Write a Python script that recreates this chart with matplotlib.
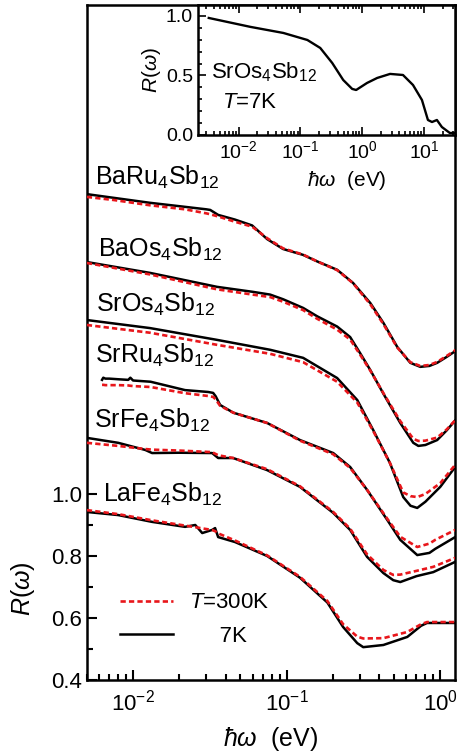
import matplotlib
matplotlib.use("Agg")
import matplotlib.pyplot as plt
from matplotlib.ticker import LogLocator, MultipleLocator, NullFormatter

plt.rcParams['font.family'] = ['Liberation Sans', 'DejaVu Sans']
plt.rcParams['mathtext.fontset'] = 'custom'
plt.rcParams['mathtext.rm'] = 'Liberation Sans'
plt.rcParams['mathtext.it'] = 'Liberation Sans:italic'
plt.rcParams['mathtext.bf'] = 'Liberation Sans:bold'

# --- data (offset curves as drawn) ---
baru_e = [0.005, 0.0075, 0.0129, 0.0218, 0.030, 0.0318, 0.0358, 0.046, 0.0596, 0.0746, 0.0948,
          0.128, 0.158, 0.213, 0.27, 0.35, 0.426, 0.525, 0.638, 0.741, 0.85, 0.955, 1.1, 1.29]
baru_7 = [1.967, 1.955, 1.939, 1.926, 1.918, 1.916, 1.900, 1.885, 1.866, 1.822, 1.790,
          1.771, 1.750, 1.723, 1.681, 1.616, 1.552, 1.474, 1.423, 1.410, 1.413, 1.423, 1.442, 1.465]
baru_300 = [1.958, 1.948, 1.931, 1.918, 1.905, 1.902, 1.895, 1.878, 1.862, 1.825, 1.792,
            1.772, 1.750, 1.722, 1.680, 1.612, 1.548, 1.472, 1.425, 1.413, 1.416, 1.426, 1.445, 1.468]

baos_e = [0.005, 0.0129, 0.0352, 0.06, 0.0781, 0.0948, 0.128, 0.158, 0.213, 0.259, 0.30,
          0.35, 0.43, 0.549, 0.667, 0.72, 0.80, 0.955, 1.1, 1.29]
baos_7 = [1.748, 1.713, 1.668, 1.652, 1.643, 1.628, 1.600, 1.573, 1.540, 1.506, 1.455,
          1.400, 1.320, 1.229, 1.165, 1.155, 1.158, 1.174, 1.205, 1.245]
baos_300 = [1.745, 1.708, 1.660, 1.643, 1.635, 1.620, 1.593, 1.565, 1.530, 1.498, 1.450,
            1.398, 1.322, 1.235, 1.178, 1.171, 1.172, 1.182, 1.208, 1.245]

sros_e = [0.005, 0.0129, 0.0352, 0.0781, 0.128, 0.213, 0.288, 0.366, 0.47, 0.574, 0.64,
          0.708, 0.80, 1.0, 1.25]
sros_7 = [1.561, 1.535, 1.497, 1.465, 1.439, 1.374, 1.303, 1.206, 1.100, 0.990, 0.962,
          0.955, 0.975, 1.023, 1.087]
sros_300 = [1.545, 1.520, 1.481, 1.452, 1.425, 1.362, 1.295, 1.203, 1.100, 1.005, 0.993,
            0.990, 1.000, 1.035, 1.094]

srru_e = [0.00628, 0.0064, 0.0066, 0.0070, 0.0080, 0.0093, 0.0096, 0.0100, 0.0130, 0.0218,
          0.0308, 0.0332, 0.0345, 0.0369, 0.045, 0.0746, 0.122, 0.201, 0.259, 0.334, 0.452,
          0.549, 0.708, 0.85, 0.927, 1.25]
srru_7 = [1.368, 1.375, 1.372, 1.372, 1.370, 1.368, 1.375, 1.366, 1.362, 1.335,
          1.329, 1.326, 1.315, 1.287, 1.262, 1.229, 1.174, 1.132, 1.087, 1.013, 0.916,
          0.852, 0.803, 0.810, 0.823, 0.861]
srru_300 = [1.352, 1.352, 1.351, 1.351, 1.351, 1.350, 1.349, 1.348, 1.345, 1.325,
            1.316, 1.313, 1.305, 1.284, 1.262, 1.229, 1.172, 1.128, 1.084, 1.013, 0.920,
            0.862, 0.829, 0.840, 0.852, 0.884]

srfe_e = [0.005, 0.0080, 0.0120, 0.0133, 0.020, 0.0327, 0.0358, 0.0448, 0.0746, 0.122,
          0.201, 0.259, 0.334, 0.426, 0.494, 0.549, 0.70, 0.90, 1.25]
srfe_7 = [1.181, 1.165, 1.142, 1.132, 1.133, 1.132, 1.116, 1.116, 1.077, 1.023,
          0.939, 0.884, 0.797, 0.745, 0.722, 0.716, 0.735, 0.748, 0.781]
srfe_300 = [1.165, 1.155, 1.145, 1.143, 1.140, 1.135, 1.125, 1.116, 1.080, 1.025,
            0.942, 0.888, 0.805, 0.755, 0.739, 0.740, 0.752, 0.765, 0.794]

lafe_e = [0.005, 0.0080, 0.0133, 0.0218, 0.0254, 0.0282, 0.0327, 0.0342, 0.0358, 0.0461,
          0.0746, 0.122, 0.184, 0.233, 0.288, 0.315, 0.426, 0.61, 0.75, 0.82, 1.25]
lafe_7 = [0.942, 0.932, 0.910, 0.894, 0.900, 0.874, 0.884, 0.890, 0.861, 0.845,
          0.800, 0.730, 0.650, 0.571, 0.519, 0.506, 0.513, 0.539, 0.575, 0.584, 0.584]
lafe_300 = [0.948, 0.935, 0.915, 0.898, 0.893, 0.889, 0.884, 0.880, 0.873, 0.850,
            0.802, 0.733, 0.655, 0.580, 0.540, 0.534, 0.535, 0.555, 0.580, 0.587, 0.587]

samples = [r'BaRu$_4$Sb$_{12}$', r'BaOs$_4$Sb$_{12}$', r'SrOs$_4$Sb$_{12}$',
           r'SrRu$_4$Sb$_{12}$', r'SrFe$_4$Sb$_{12}$', r'LaFe$_4$Sb$_{12}$']
label_x = [0.00565, 0.00592, 0.00574, 0.00565, 0.0056, 0.00637]
label_y = [1.997, 1.765, 1.587, 1.423, 1.213, 0.974]

# inset: SrOs4Sb12, 7 K, wide range
ins_e = [0.0033, 0.0156, 0.0532, 0.130, 0.210, 0.328, 0.494, 0.69, 0.80, 1.20, 1.75,
         2.83, 4.58, 6.65, 9.28, 11.6, 13.5, 16.2, 19.5, 26.2, 34.0]
ins_r = [0.983, 0.908, 0.857, 0.798, 0.731, 0.605, 0.462, 0.387, 0.378, 0.437, 0.479,
         0.513, 0.504, 0.420, 0.294, 0.126, 0.109, 0.126, 0.067, 0.017, 0.017]

fig = plt.figure(figsize=(4.57, 7.55), dpi=100)
ax = fig.add_axes([0.190, 0.0993, 0.806, 0.8941])

red_kw = dict(color='#e8161b', lw=1.9, ls=(0, (2.0, 1.2)), zorder=3)
blk_kw = dict(color='black', lw=1.8, zorder=2)

curves = [(baru_e, baru_7, baru_300), (baos_e, baos_7, baos_300), (sros_e, sros_7, sros_300),
          (srru_e, srru_7, srru_300), (srfe_e, srfe_7, srfe_300), (lafe_e, lafe_7, lafe_300)]
for e, r7, r300 in curves:
    l7, = ax.plot(e, r7, **blk_kw)
    l300, = ax.plot(e, r300, **red_kw)

for name, lx, ly in zip(samples, label_x, label_y):
    ax.text(lx, ly, name, fontsize=18, va='baseline', ha='left')

ax.set_xscale('log')
ax.set_xlim(0.005, 1.25)
ax.set_ylim(0.4, 2.577)
ax.set_yticks([0.4, 0.6, 0.8, 1.0])
ax.set_yticklabels(['0.4', '0.6', '0.8', '1.0'])
ax.set_yticks([0.5, 0.7, 0.9], minor=True)
ax.xaxis.set_major_locator(LogLocator(base=10, numticks=10))
ax.xaxis.set_minor_locator(LogLocator(base=10, subs=range(2, 10), numticks=20))
ax.xaxis.set_minor_formatter(NullFormatter())
ax.tick_params(which='both', direction='in', top=False, right=False, width=1.5, labelsize=16)
ax.tick_params(which='major', length=7)
ax.tick_params(which='minor', length=4)
ax.tick_params(axis='x', pad=7)
for s in ax.spines.values():
    s.set_linewidth(1.8)

ax.set_xlabel(r'$ħω$  (eV)', fontsize=18, labelpad=7)
ax.set_ylabel(r'$R(ω)$', fontsize=18)
ax.yaxis.set_label_coords(-0.135, 0.135)

leg = ax.legend([l300, l7], [r'$T$=300K', '     7K'], loc='lower left',
                bbox_to_anchor=(0.035, 0.02), frameon=False, fontsize=16,
                handlelength=2.4, handletextpad=0.7, labelspacing=0.55)

# inset
ins = fig.add_axes([0.433, 0.8212, 0.563, 0.1722])
ins.plot(ins_e, ins_r, color='black', lw=1.7)
ins.set_xscale('log')
ins.set_xlim(0.0022, 32)
ins.set_ylim(0.0, 1.092)
ins.set_yticks([0.0, 0.5, 1.0])
ins.set_yticklabels(['0.0', '0.5', '1.0'])
ins.yaxis.set_minor_locator(MultipleLocator(0.1))
ins.xaxis.set_major_locator(LogLocator(base=10, numticks=10))
ins.xaxis.set_minor_locator(LogLocator(base=10, subs=range(2, 10), numticks=20))
ins.xaxis.set_minor_formatter(NullFormatter())
ins.tick_params(which='both', direction='in', top=True, right=False, width=1.2, labelsize=14)
ins.tick_params(which='major', length=6)
ins.tick_params(which='minor', length=3)
for s in ins.spines.values():
    s.set_linewidth(1.8)
ins.set_xlabel(r'$ħω$  (eV)', fontsize=15, labelpad=2)
ins.xaxis.set_label_coords(0.58, -0.26)
ins.set_ylabel(r'$R(ω)$', fontsize=15, labelpad=2)
ins.text(0.00355, 0.479, r'SrOs$_4$Sb$_{12}$', fontsize=16, va='baseline')
ins.text(0.0055, 0.227, r'$T$=7K', fontsize=16, va='baseline')

fig.savefig('out.png', dpi=100)
